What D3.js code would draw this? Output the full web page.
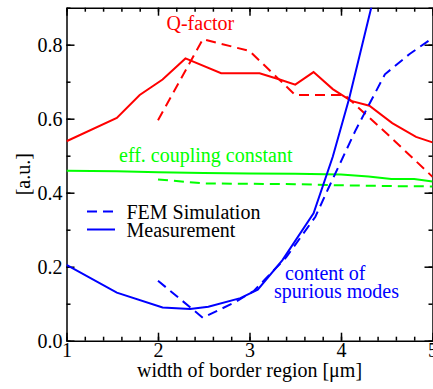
<!DOCTYPE html>
<html>
<head>
<meta charset="utf-8">
<script src="https://cdn.jsdelivr.net/npm/d3@7"></script>
<style>
  body { margin: 0; background: #fff; }
  svg { display: block; font-family: "Liberation Serif", "Times New Roman", Times, "DejaVu Serif", serif; }
  .axis path, .axis line { stroke: #000; stroke-width: 1.5; }
  .axis text { font-size: 20px; fill: #000; font-family: "Liberation Serif", "Times New Roman", Times, "DejaVu Serif", serif; }
</style>
</head>
<body>
<div id="chart"></div>
<script>
// data, [width in um, value in a.u.]
const qMeasurement = [[1.0, 0.539], [1.55, 0.602], [1.80, 0.664], [2.05, 0.706], [2.30, 0.763],
  [2.69, 0.723], [3.11, 0.723], [3.33, 0.706], [3.50, 0.692], [3.70, 0.726], [3.91, 0.680],
  [4.11, 0.648], [4.31, 0.635], [4.56, 0.588], [4.82, 0.551], [5.0, 0.536]];
const qSimulation = [[2.0, 0.596], [2.49, 0.815], [3.0, 0.783], [3.50, 0.664], [4.04, 0.664],
  [4.5, 0.560], [5.0, 0.443]];
const couplingMeasurement = [[1.0, 0.459], [1.55, 0.458], [2.0, 0.455], [2.5, 0.453], [3.0, 0.452],
  [3.5, 0.451], [4.0, 0.449], [4.3, 0.444], [4.55, 0.437], [4.8, 0.437], [5.0, 0.430]];
const couplingSimulation = [[2.0, 0.436], [2.5, 0.425], [3.0, 0.424], [3.5, 0.423], [4.0, 0.420],
  [4.5, 0.418], [5.0, 0.417]];
const spuriousMeasurement = [[1.0, 0.205], [1.55, 0.130], [2.05, 0.090], [2.35, 0.086], [2.55, 0.092],
  [2.90, 0.115], [3.09, 0.138], [3.36, 0.218], [3.70, 0.344], [3.91, 0.497], [4.09, 0.655], [4.35, 0.92]];
const spuriousSimulation = [[2.0, 0.162], [2.49, 0.062], [2.85, 0.105], [3.05, 0.135], [3.40, 0.225],
  [3.72, 0.335], [3.87, 0.416], [4.16, 0.569], [4.48, 0.720], [4.75, 0.775], [5.0, 0.818]];

const xTicks = [1, 2, 3, 4, 5];
const yTicks = [0.0, 0.2, 0.4, 0.6, 0.8];
const legendLabels = ['FEM Simulation', 'Measurement'];

const width = 433;
const height = 389;
const margin = {top: 7.7, right: 0.5, bottom: 48.3, left: 66.5};

const svg = d3.select('#chart').append('svg')
  .attr('width', width)
  .attr('height', height);

const x = d3.scaleLinear().domain([1, 5]).range([margin.left, width - margin.right]);
const y = d3.scaleLinear().domain([0, 0.9]).range([height - margin.bottom, margin.top]);

svg.append('clipPath').attr('id', 'plot-clip')
  .append('rect')
  .attr('x', x(1)).attr('y', y(0.9))
  .attr('width', x(5) - x(1)).attr('height', y(0) - y(0.9));

// axes, ticks pointing inward on all four sides
const xMinor = d3.range(1, 5.001, 0.2);
const yMinor = d3.range(0, 0.901, 0.1);

svg.append('g').attr('class', 'axis')
  .attr('transform', `translate(0,${y(0)})`)
  .call(d3.axisBottom(x).tickValues(xMinor).tickSize(-4).tickFormat(''))
  .call(g => g.select('.domain').remove());
svg.append('g').attr('class', 'axis')
  .attr('transform', `translate(0,${y(0)})`)
  .call(d3.axisBottom(x).tickValues(xTicks).tickSizeInner(-8).tickSizeOuter(0).tickPadding(2).tickFormat(d3.format('d')));

svg.append('g').attr('class', 'axis')
  .attr('transform', `translate(0,${y(0.9)})`)
  .call(d3.axisTop(x).tickValues(xMinor).tickSize(-4).tickFormat(''))
  .call(g => g.select('.domain').remove());
svg.append('g').attr('class', 'axis')
  .attr('transform', `translate(0,${y(0.9)})`)
  .call(d3.axisTop(x).tickValues(xTicks).tickSizeInner(-8).tickSizeOuter(0).tickFormat(''));

svg.append('g').attr('class', 'axis')
  .attr('transform', `translate(${x(1)},0)`)
  .call(d3.axisLeft(y).tickValues(yMinor).tickSize(-4).tickFormat(''))
  .call(g => g.select('.domain').remove());
svg.append('g').attr('class', 'axis')
  .attr('transform', `translate(${x(1)},0)`)
  .call(d3.axisLeft(y).tickValues(yTicks).tickSizeInner(-8).tickSizeOuter(0).tickPadding(4).tickFormat(d3.format('.1f')));

svg.append('g').attr('class', 'axis')
  .attr('transform', `translate(${x(5)},0)`)
  .call(d3.axisRight(y).tickValues(yMinor).tickSize(-4).tickFormat(''))
  .call(g => g.select('.domain').remove());
svg.append('g').attr('class', 'axis')
  .attr('transform', `translate(${x(5)},0)`)
  .call(d3.axisRight(y).tickValues(yTicks).tickSizeInner(-8).tickSizeOuter(0).tickFormat(''));

// lines
const line = d3.line().x(d => x(d[0])).y(d => y(d[1]));
const series = [
  {data: qMeasurement, color: '#ff0000', dashed: false},
  {data: qSimulation, color: '#ff0000', dashed: true},
  {data: couplingMeasurement, color: '#00ff00', dashed: false},
  {data: couplingSimulation, color: '#00ff00', dashed: true},
  {data: spuriousMeasurement, color: '#0000ff', dashed: false},
  {data: spuriousSimulation, color: '#0000ff', dashed: true}
];

svg.append('g').attr('clip-path', 'url(#plot-clip)')
  .selectAll('path')
  .data(series)
  .join('path')
  .attr('d', d => line(d.data))
  .attr('fill', 'none')
  .attr('stroke', d => d.color)
  .attr('stroke-width', 2)
  .attr('stroke-dasharray', d => d.dashed ? '10,6' : null);

// annotations
svg.append('text').attr('x', 166.5).attr('y', 30)
  .attr('font-size', 20).attr('fill', '#ff0000').text('Q-factor');
svg.append('text').attr('x', 119).attr('y', 162)
  .attr('font-size', 20).attr('fill', '#00ff00').text('eff. coupling constant');
svg.append('text').attr('x', 285).attr('y', 280)
  .attr('font-size', 20).attr('fill', '#0000ff').text('content of');
svg.append('text').attr('x', 274).attr('y', 298)
  .attr('font-size', 20).attr('fill', '#0000ff').text('spurious modes');

// legend
const legend = svg.append('g').selectAll('g')
  .data(legendLabels)
  .join('g')
  .attr('transform', (d, i) => `translate(87,${211.5 + i * 18})`);
legend.append('line')
  .attr('x1', 0).attr('x2', 28)
  .attr('stroke', '#0000ff').attr('stroke-width', 2)
  .attr('stroke-dasharray', (d, i) => i === 0 ? '10,6' : null);
legend.append('text')
  .attr('x', 39.5).attr('y', 7)
  .attr('font-size', 20).attr('fill', '#000')
  .text(d => d);

// axis titles
svg.append('text')
  .attr('x', x(3)).attr('y', 377)
  .attr('text-anchor', 'middle').attr('font-size', 20)
  .text('width of border region [\u03bcm]');
svg.append('text')
  .attr('transform', `translate(30,${(y(0) + y(0.9)) / 2}) rotate(-90)`)
  .attr('text-anchor', 'middle').attr('font-size', 20)
  .text('[a.u.]');
</script>
</body>
</html>
